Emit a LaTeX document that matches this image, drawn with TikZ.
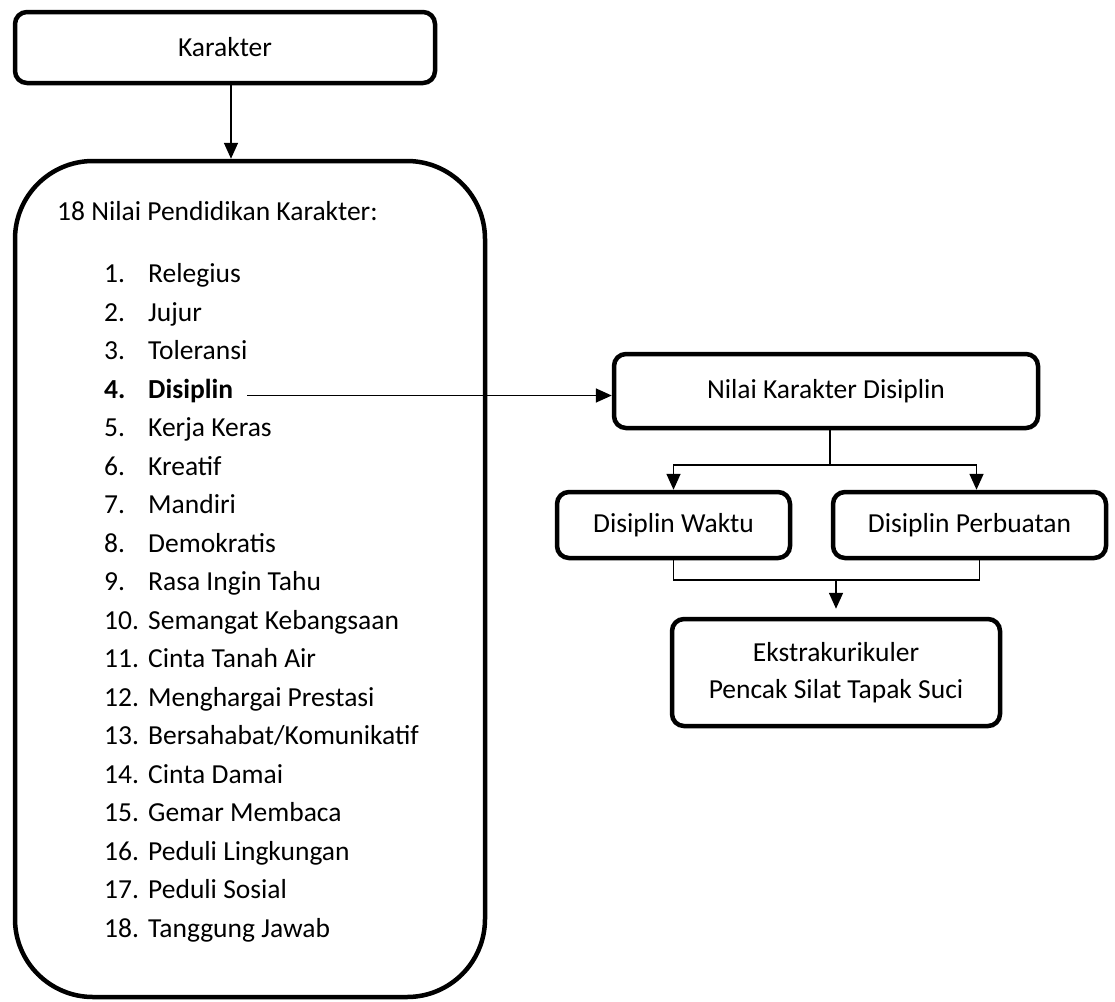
\documentclass[tikz,border=0pt]{standalone}
\usepackage{fontspec}
\setmainfont{Carlito}
\usetikzlibrary{arrows.meta,calc}
\begin{document}
\begin{tikzpicture}[x=1pt,y=-1pt,
  font=\fontsize{27.5}{33}\selectfont,
  box/.style={draw, line width=4.5pt, rounded corners=12pt, align=center, inner sep=0pt},
  bigbox/.style={draw, line width=4.5pt, rounded corners=78pt, inner sep=0pt},
  txt/.style={inner sep=0pt, anchor=west, text height=0.72em, text depth=0.22em},
  conn/.style={line width=1.7pt},
  arr/.style={conn, -{Triangle[length=16pt,width=14pt]}}]
\useasboundingbox (0,0) rectangle (1115,1001);
% boxes
\node[box, minimum width=420pt, minimum height=71pt] (kar) at (225,47.5) {Karakter};
\node[bigbox, minimum width=470pt, minimum height=836pt] (list) at (250,579) {};
\node[box, minimum width=424pt, minimum height=74pt] (nkd) at (826,391) {Nilai Karakter Disiplin};
\node[box, minimum width=233pt, minimum height=66pt] (wak) at (673.5,525) {Disiplin Waktu};
\node[box, minimum width=273pt, minimum height=66pt] (per) at (969.5,525) {Disiplin Perbuatan};
\node[box, minimum width=328pt, minimum height=107pt] (eks) at (836,672.5) {Ekstrakurikuler\\[4pt]Pencak Silat Tapak Suci};
% heading and list
\node[txt] (head) at (57,218) {18 Nilai Pendidikan Karakter:};
\foreach \n/\t [count=\k] in {1/Relegius,2/Jujur,3/Toleransi,4/Disiplin,5/Kerja Keras,6/Kreatif,7/Mandiri,8/Demokratis,9/Rasa Ingin Tahu,10/Semangat Kebangsaan,11/Cinta Tanah Air,12/Menghargai Prestasi,13/Bersahabat\slash Komunikatif,14/Cinta Damai,15/Gemar Membaca,16/Peduli Lingkungan,17/Peduli Sosial,18/Tanggung Jawab}{
  \ifnum\k=4
    \node[txt] (n\k) at (104,{280+(\k-1)*38.5}) {\textbf{\n.}};
    \node[txt] (i\k) at (148,{280+(\k-1)*38.5}) {\textbf{\t}};
  \else
    \node[txt] (n\k) at (104,{280+(\k-1)*38.5}) {\n.};
    \node[txt] (i\k) at (148,{280+(\k-1)*38.5}) {\t};
  \fi
}
% connectors
\draw[arr] ([xshift=6pt]kar.south) -- ([xshift=6pt]kar.south |- list.north);
\draw[arr] ([xshift=14pt]i4.east) -- (i4.east -| nkd.west);
\coordinate (j1) at ($(nkd.south)+(4,35)$);
\draw[conn] (nkd.south -| j1) -- (j1);
\draw[arr] (j1) -| (wak.north);
\draw[arr] (j1) -| ([xshift=7pt]per.north);
\coordinate (j2) at ($(wak.south)+(0,20)$);
\draw[conn] (wak.south) -- (j2) -| ([xshift=10pt]per.south);
\draw[arr, shorten >=8pt] (j2 -| eks.north) -- (eks.north);
\end{tikzpicture}
\end{document}
